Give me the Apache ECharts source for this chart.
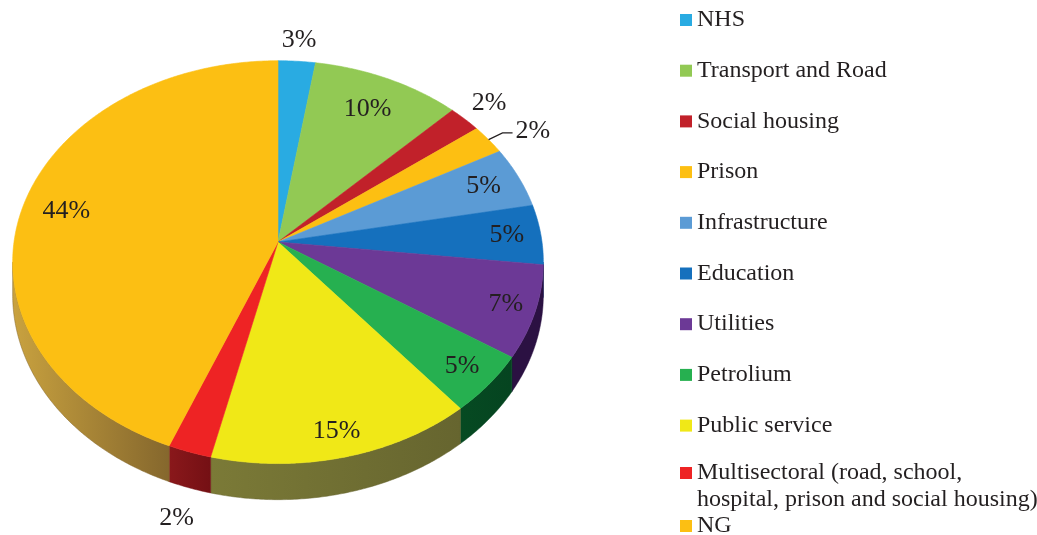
<!DOCTYPE html>
<html>
<head>
<meta charset="utf-8">
<script src="https://cdn.jsdelivr.net/npm/echarts@6/dist/echarts.min.js"></script>
<style>
html,body{margin:0;padding:0;background:#fff;}
#chart{width:1037px;height:535px;}
</style>
</head>
<body>
<div id="chart"></div>
<script>
// ---- data ----
const categories = ['NHS', 'Transport and Road', 'Social housing', 'Prison', 'Infrastructure', 'Education', 'Utilities', 'Petrolium', 'Public service', 'Multisectoral (road, school, hospital, prison and social housing)', 'NG'];
const shares = [2.5, 10.0, 2.2, 2.4, 4.9, 4.8, 7.4, 4.8, 14.7, 2.4, 43.9];

// ---- styles (kept apart from data) ----
const topColors = ['#29abe2', '#92c954', '#c1212a', '#fdbf12', '#5b9bd5', '#1570bd', '#6c3996', '#26b050', '#f0e817', '#ee2324', '#fcbf13'];
const sideColors = [
  ['#1a6e91', '#1a6e91'], ['#5e8236', '#5e8236'], ['#7d1519', '#7d1519'], ['#a57b0a', '#a57b0a'],
  ['#3a6589', '#3a6589'], ['#0c3d72', '#0c3d72'], ['#2b1142', '#2b1142'], ['#064a22', '#054420'],
  ['#7b7a37', '#66652f'], ['#8a181b', '#741014'], ['#c9a23f', '#85672d']
];
const labelRadius = [1.13, 0.8, 1.14, 1.0, 0.85, 0.87, 0.89, 0.88, 0.89, 1.13, 0.83];
const leaderIndex = 3;

// ---- geometry of the tilted pie (layout) ----
const CX = 278, AY = 242, RX = 264, RY = 199.4, K = 0.1, H = 32.5;
const total = shares.reduce((a, b) => a + b, 0);
function P(t, r) {
  const s = Math.sin(t), c = Math.cos(t), d = 1 + K * r * c;
  return [CX + RX * r * s / d, AY - RY * r * c / d];
}
function depth(t) { return H / (1 + K * Math.cos(t)); }
function arc(t0, t1, r, down) {
  const pts = [];
  const n = Math.max(2, Math.ceil((t1 - t0) / (Math.PI / 360)));
  for (let j = 0; j <= n; j++) {
    const t = t0 + (t1 - t0) * j / n;
    const p = P(t, r);
    if (down) p[1] += depth(t);
    pts.push(p);
  }
  return pts;
}
const FONT = 'Liberation Serif';
const TXT = '#231f20';
const LABEL_SIZE = 26;

function makeRender(i) {
  return function (params, api) {
    const v = api.value(0);
    let cum = 0;
    for (let j = 0; j < i; j++) cum += shares[j];
    const t0 = 2 * Math.PI * cum / total;
    const t1 = 2 * Math.PI * (cum + v) / total;
    const children = [];
    // side wall (front part only)
    const a = Math.acos(-K);
    const s0 = Math.max(t0, a), s1 = Math.min(t1, 2 * Math.PI - a);
    if (s1 > s0) {
      const top = arc(s0, s1, 1, false);
      const bot = arc(s0, s1, 1, true).reverse();
      children.push({
        type: 'polygon',
        shape: { points: top.concat(bot) },
        style: {
          fill: new echarts.graphic.LinearGradient(0, 0, 1, 0, [
            { offset: 0, color: sideColors[i][0] }, { offset: 1, color: sideColors[i][1] }
          ]),
          stroke: sideColors[i][1], lineWidth: 0.5
        }
      });
    }
    // top face
    const pts = [P(0, 0)].concat(arc(t0, t1, 1, false));
    children.push({
      type: 'polygon',
      shape: { points: pts },
      style: { fill: topColors[i], stroke: topColors[i], lineWidth: 0.6 }
    });
    // label
    const mid = (t0 + t1) / 2;
    const txt = Math.round(v / total * 100) + '%';
    if (i === leaderIndex) {
      const p0 = P(mid, 1.0), p1 = P(mid, 1.07);
      const p2 = [p1[0] + 10, p1[1]];
      children.push({
        type: 'polyline',
        shape: { points: [p0, p1, p2] },
        style: { stroke: TXT, lineWidth: 1.2, fill: null }
      });
      children.push({
        type: 'text',
        style: { text: txt, x: p2[0] + 3, y: p2[1] - 2, fill: TXT, fontSize: LABEL_SIZE, fontFamily: FONT, align: 'left', verticalAlign: 'middle' }
      });
    } else {
      const r = labelRadius[i];
      const p = P(mid, r);
      if (r > 1 && Math.cos(mid) < 0) p[1] += depth(mid);
      children.push({
        type: 'text',
        style: { text: txt, x: p[0], y: p[1], fill: TXT, fontSize: LABEL_SIZE, fontFamily: FONT, align: 'center', verticalAlign: 'middle' }
      });
    }
    return { type: 'group', children: children };
  };
}

const series = categories.map((name, i) => ({
  type: 'custom',
  name: name,
  coordinateSystem: 'none',
  silent: true,
  itemStyle: { color: topColors[i] },
  data: [[shares[i]]],
  renderItem: makeRender(i)
}));

const legendText = { fontSize: 24, fontFamily: FONT, color: TXT, lineHeight: 27 };
const chart = echarts.init(document.getElementById('chart'), null, { renderer: 'canvas' });
chart.setOption({
  backgroundColor: '#ffffff',
  animation: false,
  legend: [
    {
      orient: 'vertical', left: 680, top: 6.5, height: 1200, padding: 0,
      itemWidth: 12, itemHeight: 12, itemGap: 23.7, icon: 'rect',
      selectedMode: false, textStyle: legendText,
      data: categories.slice(0, 9)
    },
    {
      orient: 'vertical', left: 680, top: 459.5, padding: 0,
      itemWidth: 12, itemHeight: 39, icon: 'path://M0,0L12,0L12,12L0,12Z M12,39',
      selectedMode: false, textStyle: legendText,
      formatter: n => n.replace('school, ', 'school,\n'),
      data: categories.slice(9, 10)
    },
    {
      orient: 'vertical', left: 680, top: 512.5, padding: 0,
      itemWidth: 12, itemHeight: 12, icon: 'rect',
      selectedMode: false, textStyle: legendText,
      data: categories.slice(10)
    }
  ],
  series: series
});
</script>
</body>
</html>
